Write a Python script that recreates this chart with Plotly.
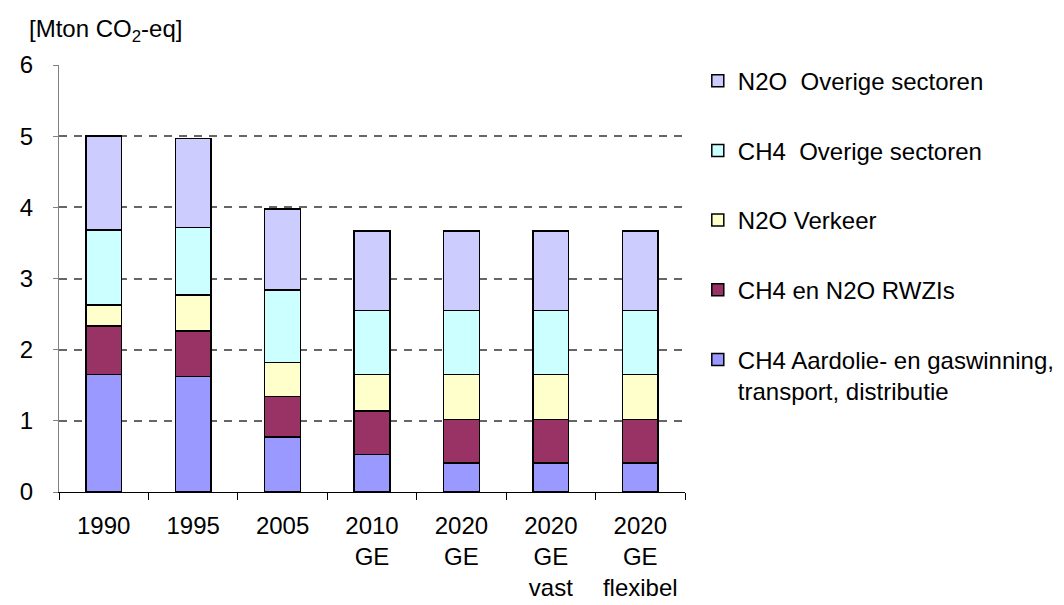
import plotly.graph_objects as go

# categories and stacked values (Mton CO2-eq), bottom to top
categories = ["1990", "1995", "2005", "2010<br>GE", "2020<br>GE", "2020<br>GE<br>vast", "2020<br>GE<br>flexibel"]

ch4_olie_gas = [1.65, 1.62, 0.77, 0.53, 0.41, 0.41, 0.41]
rwzi = [0.68, 0.64, 0.57, 0.61, 0.61, 0.61, 0.61]
n2o_verkeer = [0.30, 0.51, 0.48, 0.51, 0.63, 0.63, 0.63]
ch4_overig = [1.05, 0.95, 1.02, 0.90, 0.90, 0.90, 0.90]
n2o_overig = [1.32, 1.25, 1.14, 1.12, 1.12, 1.12, 1.12]

series_names = [
    "CH4 Aardolie- en gaswinning,<br>transport, distributie",
    "CH4 en N2O RWZIs",
    "N2O Verkeer",
    "CH4\u00a0 Overige sectoren",
    "N2O\u00a0 Overige sectoren",
]
series_values = [ch4_olie_gas, rwzi, n2o_verkeer, ch4_overig, n2o_overig]
COLORS = ["#9999FF", "#993366", "#FFFFCC", "#CCFFFF", "#CCCCFF"]

FONT = "Liberation Sans, Arial, sans-serif"
W, H = 1064, 605
L, R, T, B = 45, 383, 57, 110
PW, PH = W - L - R, H - T - B

fig = go.Figure()
for i, (name, vals) in enumerate(zip(series_names, series_values)):
    fig.add_trace(go.Bar(
        x=categories,
        y=vals,
        name=name,
        legendgroup=f"g{i}",
        legendrank=len(series_names) - i,
        marker=dict(color=COLORS[i], line=dict(color="black", width=1.5)),
    ))

fig.add_annotation(
    text="[Mton CO<sub>2</sub>-eq]",
    xref="paper", yref="paper",
    x=(12 - L) / PW, y=1 + (T - 22) / PH,
    xanchor="left", yanchor="middle",
    showarrow=False,
    font=dict(family=FONT, size=24, color="black"),
)

fig.update_layout(
    width=W, height=H,
    margin=dict(l=L, r=R, t=T, b=B),
    barmode="stack",
    bargap=0.6,
    paper_bgcolor="white",
    plot_bgcolor="white",
    font=dict(family=FONT, size=24, color="black"),
    legend=dict(
        x=(694 - L) / PW, y=1.015,
        xanchor="left", yanchor="top",
        traceorder="grouped",
        tracegroupgap=35.5,
        valign="top",
        maxheight=560,
        font=dict(family=FONT, size=24, color="black"),
    ),
    xaxis=dict(
        showline=True, linecolor="black", linewidth=1,
        ticks="outside", ticklen=7, tickcolor="black",
        tickson="boundaries",
        ticklabelstandoff=12,
        showgrid=False,
    ),
    yaxis=dict(
        range=[0, 6], dtick=1,
        showline=True, linecolor="#808080", linewidth=1,
        ticks="outside", ticklen=5, tickcolor="#808080",
        showgrid=True, gridcolor="#666666", gridwidth=1.5,
        griddash="8px,7px",
        zeroline=False,
        ticklabelstandoff=15,
    ),
)

fig.write_html("out.html")
